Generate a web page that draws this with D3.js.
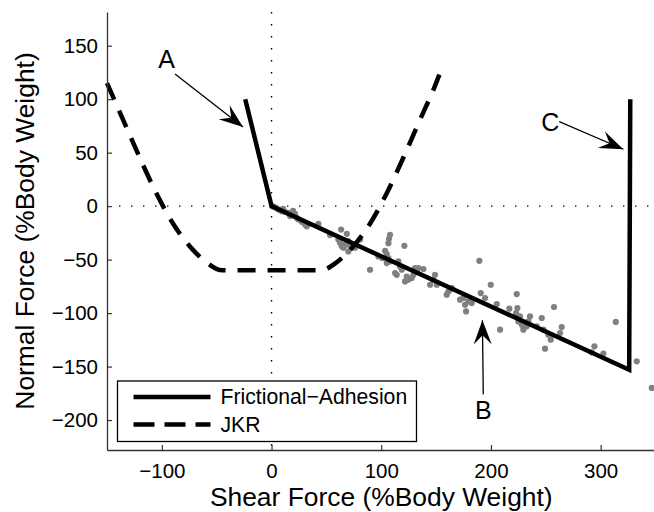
<!DOCTYPE html>
<html>
<head>
<meta charset="UTF-8">
<title>Frictional adhesion vs JKR</title>
<script src="https://cdn.jsdelivr.net/npm/d3@7/dist/d3.min.js"></script>
<style>
body { margin: 0; background: #fff; }
text { font-family: "Liberation Sans", Arial, sans-serif; fill: #000; }
</style>
</head>
<body>
<div id="chart"></div>
<script>
// ticks
var xTicks = [-100, 0, 100, 200, 300];
var yTicks = [-200, -150, -100, -50, 0, 50, 100, 150];

// frictional adhesion model (solid)
var fricShear  = [-24, 0, 326, 327];
var fricNormal = [100, 0, -153, 100];

// JKR model (dashed)
var jkrShear  = [-150, -135, -120, -105, -90, -75, -60, -45, 0, 45, 60, 75, 90, 105, 120, 135, 150, 153];
var jkrNormal = [115, 80, 45, 12, -16, -37, -52, -60, -60, -60, -52, -37, -16, 12, 45, 80, 115, 123];

// measured points (grey)
var ptShear = [0.7, 2.3, 4.1, 6.2, 9.3, 10.5, 12.3, 15.3, 18.4, 19.6, 21.4, 16.9, 23.0, 24.4, 27.5, 30.5, 32.1,
  42.7, 53.3, 63.4, 68.6, 60.9, 62.4, 64.0, 65.5, 67.0, 70.0, 71.6, 80.7, 76.1, 70.0,
  108.0, 107.1, 106.5, 121.1, 103.5, 105.0, 97.4, 101.0, 106.5, 108.0, 105.0, 89.8, 115.6, 117.1, 118.7,
  114.1, 112.6, 130.8, 132.4, 129.3, 127.8, 124.7, 121.7, 123.2, 133.8, 138.4, 149.0, 147.5, 144.5, 150.6,
  164.3, 161.2, 189.4, 199.8, 190.7, 194.6, 174.8, 179.4, 182.5, 176.4, 177.3, 205.3, 223.5, 216.8, 224.1,
  222.9, 226.5, 225.0, 228.1, 229.5, 235.6, 234.1, 232.6, 246.3, 241.7, 247.8, 252.3, 257.5, 208.3, 264.5,
  263.0, 249.3, 254.5, 159.7, 162.7, 171.8, 313.8, 294.3, 291.9, 302.5, 332.9, 346.6];
var ptNormal = [0, -0.6, -1.6, -3.2, -4.7, -2.5, -5.3, -6.3, -6.3, -4.4, -7.2, -9.3, -10.9, -12.5, -14.7, -17.2, -18.7,
  -16.5, -27.1, -21.9, -25.9, -31.2, -34.3, -37.4, -38.9, -35.9, -32.7, -37.4, -31.2, -38.9, -42.4,
  -26.8, -30.5, -34.6, -37.1, -41.7, -44.8, -47.1, -48.6, -48.6, -51.7, -53.2, -59.5, -51.7, -56.4, -59.5,
  -64.2, -62.6, -57.9, -61.1, -64.2, -67.2, -68.8, -70.4, -65.8, -57.9, -58.8, -64.2, -68.8, -73.5, -73.5,
  -76.6, -79.8, -51.1, -73.5, -81.3, -85.9, -85.9, -89.1, -90.6, -92.2, -98.4, -91.5, -82.2, -95.9, -95.3,
  -99.9, -103.1, -107.8, -110.9, -115.5, -103.1, -107.8, -112.4, -104.6, -112.4, -115.5, -120.2, -94.3, -115.5, -113.0,
  -118.6, -133.3, -124.9, -82.8, -78.2, -87.5, -108.3, -131.1, -136.7, -137.9, -145.1, -170.0];

// annotations (data units): label, label x/y, arrow tail x/y, arrow tip x/y
var annoLabel = ["A", "B", "C"];
var annoX     = [-95.7, 193, 254];
var annoY     = [137.6, -191, 79];
var tailX     = [-88, 193, 262.3];
var tailY     = [123.5, -176, 79];
var tipX      = [-26, 192.2, 320.7];
var tipY      = [74, -106.8, 53.2];

var legendNames = ["Frictional\u2212Adhesion", "JKR"];

var width = 654, height = 512;
var svg = d3.select("#chart").append("svg")
  .attr("width", width)
  .attr("height", height);

var x = d3.scaleLinear().domain([-150, 350]).range([107, 655.5]);
var y = d3.scaleLinear().domain([-228, 181.5]).range([450, 12]);

// dotted zero lines
svg.append("line")
  .attr("x1", x(0)).attr("x2", x(0))
  .attr("y1", y.range()[1]).attr("y2", y.range()[0])
  .attr("stroke", "#000").attr("stroke-width", 1.4)
  .attr("stroke-dasharray", "1.4,10.6");
svg.append("line")
  .attr("x1", x.range()[0]).attr("x2", width)
  .attr("y1", y(0)).attr("y2", y(0))
  .attr("stroke", "#000").attr("stroke-width", 1.4)
  .attr("stroke-dasharray", "1.4,10.6");

// scatter
svg.append("g").selectAll("circle")
  .data(d3.range(ptShear.length))
  .enter().append("circle")
  .attr("cx", function(i){ return x(ptShear[i]); })
  .attr("cy", function(i){ return y(ptNormal[i]); })
  .attr("r", 3.1)
  .attr("fill", "#808080");

var line = d3.line()
  .x(function(d){ return x(d[0]); })
  .y(function(d){ return y(d[1]); });

svg.append("path")
  .datum(d3.zip(jkrShear, jkrNormal))
  .attr("d", line.curve(d3.curveMonotoneX))
  .attr("fill", "none")
  .attr("stroke", "#000")
  .attr("stroke-width", 4.5)
  .attr("stroke-dasharray", "18,12");

svg.append("path")
  .datum(d3.zip(fricShear, fricNormal))
  .attr("d", line.curve(d3.curveLinear))
  .attr("fill", "none")
  .attr("stroke", "#000")
  .attr("stroke-width", 4.5)
  .attr("stroke-linejoin", "miter");

// axes (ticks point inward)
var xAxis = d3.axisBottom(x).tickValues(xTicks).tickSizeInner(-5).tickSizeOuter(0).tickPadding(13);
var yAxis = d3.axisLeft(y).tickValues(yTicks).tickSizeInner(-5).tickSizeOuter(0).tickPadding(9);

var gx = svg.append("g").attr("transform", "translate(0," + y.range()[0] + ")").call(xAxis);
var gy = svg.append("g").attr("transform", "translate(" + x.range()[0] + ",0)").call(yAxis);
[gx, gy].forEach(function(g){
  g.select(".domain").attr("stroke", "#333").attr("stroke-width", 1.3);
  g.selectAll(".tick line").attr("stroke", "#333").attr("stroke-width", 1.2);
  g.selectAll(".tick text").attr("font-size", 20.5).attr("font-family", "Liberation Sans, Arial, sans-serif").attr("fill", "#000");
});

svg.append("text")
  .attr("x", (x.range()[0] + x.range()[1]) / 2)
  .attr("y", 506)
  .attr("text-anchor", "middle")
  .attr("font-size", 26.4)
  .text("Shear Force (%Body Weight)");

svg.append("text")
  .attr("transform", "translate(34," + (y.range()[0] + y.range()[1]) / 2 + ") rotate(-90)")
  .attr("text-anchor", "middle")
  .attr("font-size", 26.4)
  .text("Normal Force (%Body Weight)");

// arrows
svg.append("defs").append("marker")
  .attr("id", "head")
  .attr("markerUnits", "userSpaceOnUse")
  .attr("viewBox", "-26 -10 28 20")
  .attr("refX", 0).attr("refY", 0)
  .attr("markerWidth", 28).attr("markerHeight", 20)
  .attr("orient", "auto")
  .append("path")
  .attr("d", "M0,0L-24,-9L-15,0L-24,9Z")
  .attr("fill", "#000");

var anno = svg.append("g");
annoLabel.forEach(function(t, i){
  anno.append("line")
    .attr("x1", x(tailX[i])).attr("y1", y(tailY[i]))
    .attr("x2", x(tipX[i])).attr("y2", y(tipY[i]))
    .attr("stroke", "#000").attr("stroke-width", 1.3)
    .attr("marker-end", "url(#head)");
  anno.append("text")
    .attr("x", x(annoX[i])).attr("y", y(annoY[i]))
    .attr("dy", "0.36em")
    .attr("text-anchor", "middle")
    .attr("font-size", 25)
    .text(t);
});

// legend
var lg = svg.append("g").attr("transform", "translate(117.5,381)");
lg.append("rect")
  .attr("width", 299).attr("height", 60.5)
  .attr("fill", "#fff").attr("stroke", "#000").attr("stroke-width", 1.3);
legendNames.forEach(function(name, i){
  var ly = 16 + i * 27.5;
  lg.append("line")
    .attr("x1", 16).attr("x2", 93)
    .attr("y1", ly).attr("y2", ly)
    .attr("stroke", "#000").attr("stroke-width", 4.5)
    .attr("stroke-dasharray", i === 1 ? "21,10" : null);
  lg.append("text")
    .attr("x", 103).attr("y", ly)
    .attr("dy", "0.35em")
    .attr("font-size", 21.2)
    .text(name);
});
</script>
</body>
</html>
